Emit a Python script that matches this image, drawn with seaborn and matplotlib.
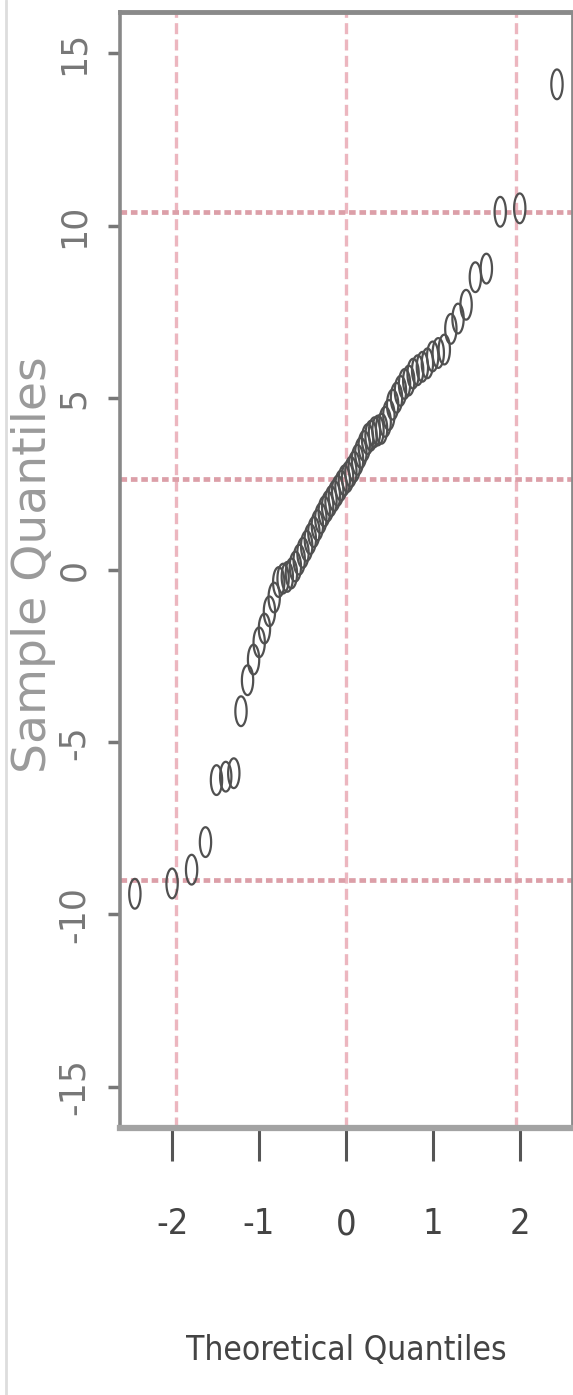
import matplotlib
matplotlib.use("Agg")
import matplotlib.pyplot as plt
from matplotlib import font_manager
from matplotlib.path import Path
from matplotlib.lines import Line2D
import seaborn as sns
import numpy as np
import pandas as pd
from statistics import NormalDist

# sample quantiles (sorted, 66 points)
sample_q = [-9.4, -9.1, -8.7, -7.9, -6.1, -6.0, -5.9, -4.1, -3.2, -2.6,
            -2.1, -1.7, -1.2, -0.8, -0.35, -0.25, -0.2, -0.1, 0.1, 0.3,
            0.5, 0.7, 0.9, 1.1, 1.3, 1.5, 1.7, 1.85, 2.0, 2.15,
            2.3, 2.45, 2.6, 2.7, 2.85, 3.0, 3.2, 3.4, 3.6, 3.8,
            3.9, 4.0, 4.05, 4.1, 4.3, 4.5, 4.8, 5.0, 5.2, 5.4,
            5.5, 5.7, 5.8, 5.9, 6.0, 6.2, 6.3, 6.4, 7.0, 7.3,
            7.7, 8.5, 8.75, 10.4, 10.5, 14.1]

# reference lines
h_lines = [-9.0, 2.65, 10.4]
v_lines = [-1.96, 0, 1.96]

x_ticks = [-2, -1, 0, 1, 2]
y_ticks = [-15, -10, -5, 0, 5, 10, 15]

# theoretical quantiles like R's qqnorm (ppoints)
n = len(sample_q)
theo_q = [NormalDist().inv_cdf((i - 0.5) / n) for i in range(1, n + 1)]
df = pd.DataFrame({"theo": theo_q, "sample": sample_q})

sns.set_style("white")

# narrow font for the x axis text if there is one
names = {f.name for f in font_manager.fontManager.ttflist}
if "Liberation Sans Narrow" in names:
    narrow = dict(family=["Liberation Sans Narrow", "DejaVu Sans"])
else:
    narrow = dict(family=["DejaVu Sans"], fontstretch="condensed")

fig = plt.figure(figsize=(5.73, 13.95), dpi=100)
ax = fig.add_axes([0.2094, 0.1914, 0.7886, 0.8000])

# tall open ellipse marker (the picture is squeezed sideways)
t = np.linspace(0, 2 * np.pi, 40)
ellipse = Path(np.column_stack([0.38 * np.cos(t), np.sin(t)]), closed=True)

for v in v_lines:
    ax.axvline(v, color="#ecb6bf", lw=2.4, dashes=(3.3, 1.6), zorder=1)
for h in h_lines:
    ax.axhline(h, color="#dc9fa8", lw=3.4, dashes=(1.4, 0.8), zorder=1)

sns.scatterplot(data=df, x="theo", y="sample", marker=ellipse, s=460,
                facecolor="none", edgecolor="#505050", linewidth=1.6,
                ax=ax, zorder=3, legend=False)
ax.collections[-1].set_facecolor("none")

ax.set_xlim(-2.6, 2.6)
ax.set_ylim(-16.2, 16.2)
ax.set_xticks(x_ticks)
ax.set_yticks(y_ticks)
ax.set_xticklabels([str(v) for v in x_ticks], fontsize=26, color="#444444", **narrow)
ax.set_yticklabels([str(v) for v in y_ticks], rotation=90, va="center",
                   fontsize=25, color="#777777")
ax.tick_params(axis="x", length=24, width=2.2, color="#555555", pad=33, bottom=True)
ax.tick_params(axis="y", length=9, width=2.5, color="#777777", pad=12, left=True)

ax.set_xlabel("Theoretical Quantiles", fontsize=24, color="#444444", **narrow)
ax.set_ylabel("Sample Quantiles", fontsize=34, color="#9a9a9a")
ax.xaxis.set_label_coords(0.5, -0.185)
ax.xaxis.label.set_va("top")
ax.yaxis.set_label_coords(-0.142, 0.505)

for side, lw, col in [("left", 2.6, "#888888"), ("top", 3.5, "#8a8a8a"),
                      ("bottom", 4.5, "#a3a3a3"), ("right", 2.0, "#8a8a8a")]:
    ax.spines[side].set_linewidth(lw)
    ax.spines[side].set_color(col)
    ax.spines[side].set_visible(True)

# faint border line at the left edge of the image
fig.add_artist(Line2D([0.011, 0.011], [0.0, 1.0], color="#dddddd", lw=2))

fig.savefig("out.png", dpi=100)
